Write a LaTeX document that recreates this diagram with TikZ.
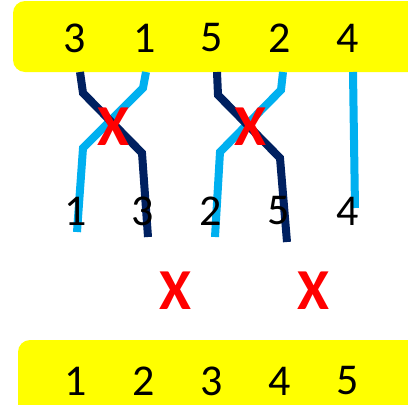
\documentclass[tikz,border=0pt]{standalone}
\usepackage{fontspec}
\setmainfont{Carlito}
\definecolor{barY}{HTML}{FFFF00}
\definecolor{lightS}{HTML}{00B0F0}
\definecolor{darkS}{HTML}{002060}
\definecolor{redX}{HTML}{FF0000}
\tikzset{
  bar/.style={fill=barY, draw=none, rounded corners=12pt},
  num/.style={font=\fontsize{44}{44}\selectfont, inner sep=0pt, text=black},
  cross/.style={font=\bfseries\fontsize{58}{58}\selectfont, inner sep=0pt, text=redX},
  lstrand/.style={draw=lightS, line width=8pt},
  dstrand/.style={draw=darkS, line width=8pt},
}
\begin{document}
\begin{tikzpicture}[x=1pt,y=-1pt]
\useasboundingbox (0,0) rectangle (408,405);
\fill[bar] (13,1) rectangle (430,72);
\fill[bar] (18,340) rectangle (430,430);
% strands
\coordinate (l1a) at (146,72); \coordinate (l1b) at (143,88); \coordinate (l1c) at (83,148); \coordinate (l1d) at (77,232);
\coordinate (d1a) at (80,72); \coordinate (d1b) at (83,93); \coordinate (d1c) at (142,153); \coordinate (d1d) at (148,237);
\coordinate (l2a) at (283,72); \coordinate (l2b) at (281,90); \coordinate (l2c) at (220,152); \coordinate (l2d) at (215,237);
\coordinate (d2a) at (217,72); \coordinate (d2b) at (218,95); \coordinate (d2c) at (280,158); \coordinate (d2d) at (287,242);
\coordinate (l3a) at (353,72); \coordinate (l3b) at (355,208);
\draw[lstrand] (l1a) -- (l1b) -- (l1c) -- (l1d);
\draw[lstrand] (l2a) -- (l2b) -- (l2c) -- (l2d);
\draw[lstrand] (l3a) -- (l3b);
\draw[dstrand] (d1a) -- (d1b) -- (d1c) -- (d1d);
\draw[dstrand] (d2a) -- (d2b) -- (d2c) -- (d2d);
% top numbers
\node[num] (t1) at (75,38) {3};
\node[num] (t2) at (145,38) {1};
\node[num] (t3) at (212,38) {5};
\node[num] (t4) at (280,38) {2};
\node[num] (t5) at (348,38) {4};
% middle numbers
\node[num] (m1) at (76,211) {1};
\node[num] (m2) at (143,211) {3};
\node[num] (m3) at (211,211) {2};
\node[num] (m4) at (279,211) {5};
\node[num] (m5) at (348,211) {4};
% bottom numbers
\node[num] (b1) at (76,381) {1};
\node[num] (b2) at (144,381) {2};
\node[num] (b3) at (212,381) {3};
\node[num] (b4) at (280,381) {4};
\node[num] (b5) at (348,381) {5};
% red crosses
\node[cross] (x1) at (113,127) {X};
\node[cross] (x2) at (250,127) {X};
\node[cross] (x3) at (175,291) {X};
\node[cross] (x4) at (313,291) {X};
\end{tikzpicture}
\end{document}
